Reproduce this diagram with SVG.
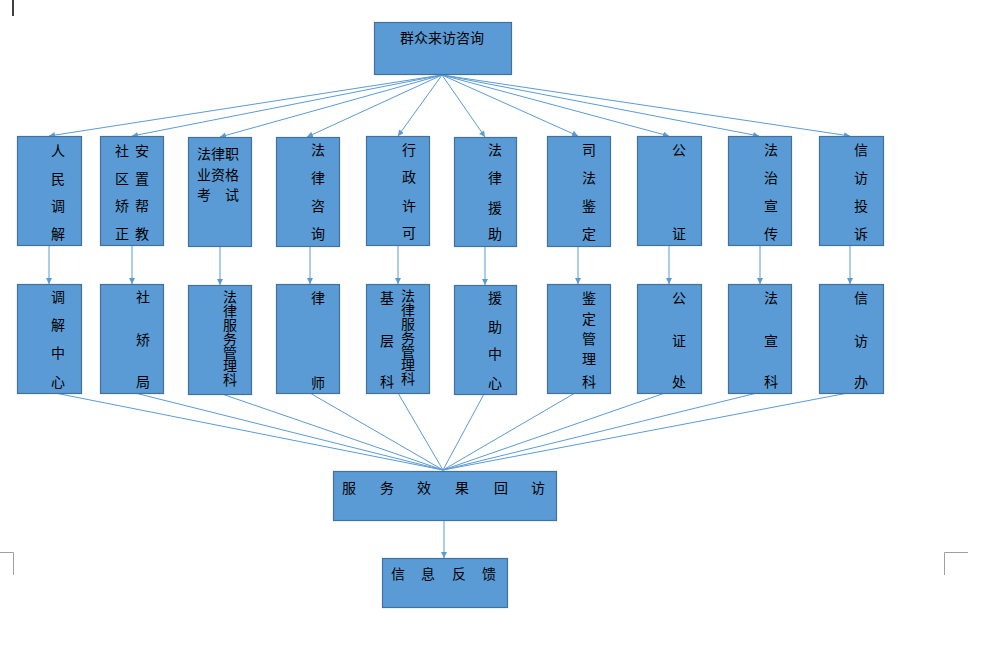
<svg xmlns="http://www.w3.org/2000/svg" width="988" height="649" viewBox="0 0 988 649">
<style>
.box{fill:#5B9BD5;stroke:#41719C;stroke-width:1.2}
.t{font-family:"Noto Sans CJK SC","Noto Sans",sans-serif;font-size:14px;fill:#000;text-anchor:middle}
.c{stroke:#5B9BD5;stroke-width:1;fill:none}
.a{marker-end:url(#ah)}
.m{stroke:#A0A0A0;stroke-width:1;fill:none}
</style>
<defs>
<marker id="ah" markerUnits="userSpaceOnUse" markerWidth="8" markerHeight="8" refX="6" refY="3" orient="auto">
<path d="M0,0 L6,3 L0,6 Z" fill="#5B9BD5"/>
</marker>
</defs>
<rect width="988" height="649" fill="#fff"/>
<line x1="13" y1="0" x2="13" y2="16" stroke="#000" stroke-width="1.5"/>
<path class="m" d="M0,552.5 H13.5 V575"/>
<path class="m" d="M944.5,575 V552.5 H968"/>

<g id="connectors">
<line class="c a" x1="442" y1="75" x2="49" y2="136"/>
<line class="c a" x1="442" y1="75" x2="132" y2="136"/>
<line class="c a" x1="442" y1="75" x2="220" y2="137"/>
<line class="c a" x1="442" y1="75" x2="307" y2="137"/>
<line class="c a" x1="442" y1="75" x2="398" y2="136"/>
<line class="c a" x1="442" y1="75" x2="485" y2="137"/>
<line class="c a" x1="442" y1="75" x2="578" y2="136"/>
<line class="c a" x1="442" y1="75" x2="669" y2="136"/>
<line class="c a" x1="442" y1="75" x2="759" y2="136"/>
<line class="c a" x1="442" y1="75" x2="850" y2="136"/>

<line class="c a" x1="49" y1="245" x2="49" y2="284"/>
<line class="c a" x1="132" y1="245" x2="132" y2="284"/>
<line class="c a" x1="220" y1="246" x2="220" y2="285"/>
<line class="c a" x1="310" y1="247" x2="310" y2="284"/>
<line class="c a" x1="398" y1="245" x2="398" y2="284"/>
<line class="c a" x1="485" y1="246" x2="485" y2="285"/>
<line class="c a" x1="578" y1="246" x2="578" y2="284"/>
<line class="c a" x1="669" y1="245" x2="669" y2="284"/>
<line class="c a" x1="760" y1="245" x2="760" y2="284"/>
<line class="c a" x1="850" y1="245" x2="850" y2="284"/>

<line class="c" x1="55" y1="393" x2="443" y2="470"/>
<line class="c" x1="135" y1="393" x2="443" y2="470"/>
<line class="c" x1="222" y1="394" x2="443" y2="470"/>
<line class="c" x1="310" y1="393" x2="443" y2="470"/>
<line class="c" x1="398" y1="393" x2="443" y2="470"/>
<line class="c" x1="484" y1="394" x2="443" y2="470"/>
<line class="c" x1="575" y1="393" x2="443" y2="470"/>
<line class="c" x1="665" y1="393" x2="443" y2="470"/>
<line class="c" x1="757" y1="393" x2="443" y2="470"/>
<line class="c" x1="848" y1="393" x2="443" y2="470"/>

<line class="c a" x1="444" y1="520" x2="444" y2="558"/>
</g>

<g id="n-top"><rect class="box" x="374.5" y="22.5" width="137" height="52"/>
<text class="t" x="442" y="43">群众来访咨询</text></g>

<g id="n-r1-1"><rect class="box" x="17.5" y="136.5" width="64" height="109"/>
<text class="t" x="58 58 58 58" y="156 184 211 239">人民调解</text></g>
<g id="n-r1-2"><rect class="box" x="100.5" y="136.5" width="63" height="109"/>
<text class="t" x="122 122 122 122" y="156 184 211 239">社区矫正</text>
<text class="t" x="142 142 142 142" y="156 184 211 239">安置帮教</text></g>
<g id="n-r1-3"><rect class="box" x="188.5" y="137.5" width="63" height="109"/>
<text class="t" x="204 218 232 204 218 232 204 232" y="159 159 159 179.5 179.5 179.5 200 200">法律职业资格考试</text></g>
<g id="n-r1-4"><rect class="box" x="276.5" y="137.5" width="63" height="109"/>
<text class="t" x="318 318 318 318" y="155 183 211 239">法律咨询</text></g>
<g id="n-r1-5"><rect class="box" x="366.5" y="136.5" width="63" height="109"/>
<text class="t" x="409 409 409 409" y="155 182 211 238">行政许可</text></g>
<g id="n-r1-6"><rect class="box" x="454.5" y="137.5" width="62" height="109"/>
<text class="t" x="495 495 495 495" y="155 183 213 239">法律援助</text></g>
<g id="n-r1-7"><rect class="box" x="547.5" y="136.5" width="63" height="110"/>
<text class="t" x="589 589 589 589" y="155 183 211 239">司法鉴定</text></g>
<g id="n-r1-8"><rect class="box" x="637.5" y="136.5" width="64" height="109"/>
<text class="t" x="679 679" y="155 239">公证</text></g>
<g id="n-r1-9"><rect class="box" x="728.5" y="136.5" width="63" height="109"/>
<text class="t" x="771 771 771 771" y="155 183 211 239">法治宣传</text></g>
<g id="n-r1-10"><rect class="box" x="819.5" y="136.5" width="64" height="109"/>
<text class="t" x="861 861 861 861" y="155 183 211 239">信访投诉</text></g>

<g id="n-r2-1"><rect class="box" x="17.5" y="284.5" width="64" height="109"/>
<text class="t" x="58 58 58 58" y="302 330 358 387">调解中心</text></g>
<g id="n-r2-2"><rect class="box" x="100.5" y="284.5" width="63" height="109"/>
<text class="t" x="143 143 143" y="302 345 387">社矫局</text></g>
<g id="n-r2-3"><rect class="box" x="188.5" y="285.5" width="63" height="109"/>
<text class="t" x="230 230 230 230 230 230 230" y="302 316 330 344 358 371 385">法律服务管理科</text></g>
<g id="n-r2-4"><rect class="box" x="276.5" y="284.5" width="63" height="109"/>
<text class="t" x="318 318" y="303 388">律师</text></g>
<g id="n-r2-5"><rect class="box" x="366.5" y="284.5" width="63" height="109"/>
<text class="t" x="387 387 387" y="303 346 387">基层科</text>
<text class="t" x="408 408 408 408 408 408 408" y="301 315 329 343 357 370 384">法律服务管理科</text></g>
<g id="n-r2-6"><rect class="box" x="454.5" y="285.5" width="62" height="109"/>
<text class="t" x="495 495 495 495" y="303 332 359 388">援助中心</text></g>
<g id="n-r2-7"><rect class="box" x="547.5" y="284.5" width="63" height="109"/>
<text class="t" x="589 589 589 589 589" y="303 324 344 364 387">鉴定管理科</text></g>
<g id="n-r2-8"><rect class="box" x="637.5" y="284.5" width="64" height="109"/>
<text class="t" x="679 679 679" y="303 346 387">公证处</text></g>
<g id="n-r2-9"><rect class="box" x="728.5" y="284.5" width="63" height="109"/>
<text class="t" x="771 771 771" y="303 346 387">法宣科</text></g>
<g id="n-r2-10"><rect class="box" x="819.5" y="284.5" width="64" height="109"/>
<text class="t" x="861 861 861" y="303 346 387">信访办</text></g>

<g id="n-visit"><rect class="box" x="333.5" y="471.5" width="223" height="49"/>
<text class="t" x="349 387 424 462 501 538" y="493 493 493 493 493 493">服务效果回访</text></g>
<g id="n-feedback"><rect class="box" x="382.5" y="558.5" width="125" height="49"/>
<text class="t" x="398 428 459 489" y="579 579 579 579">信息反馈</text></g>
</svg>
